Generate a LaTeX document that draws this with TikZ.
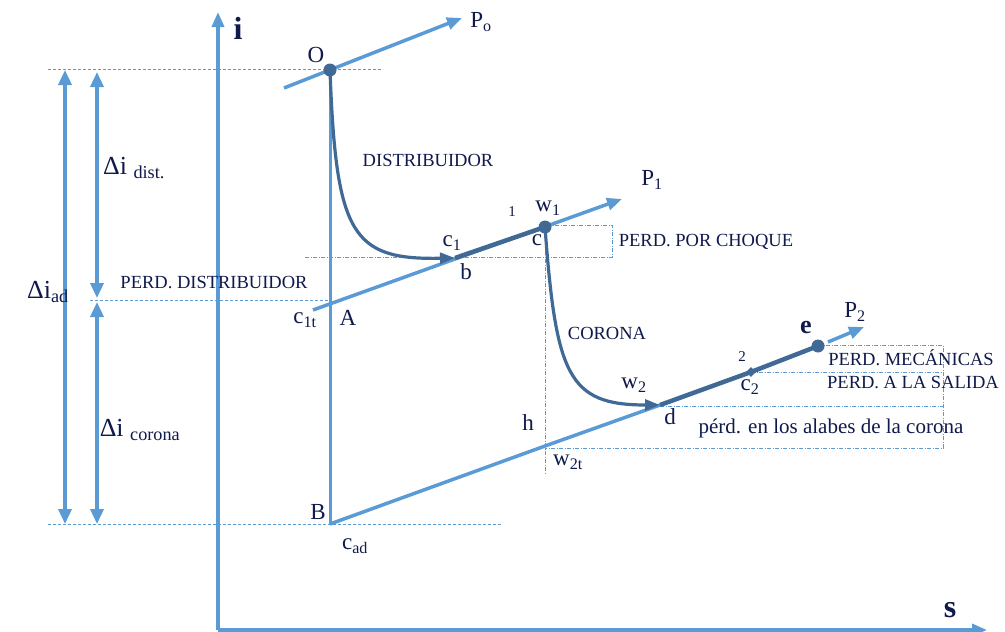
\documentclass[tikz,border=0pt]{standalone}
\usepackage{fontspec}
\setmainfont{Liberation Serif}
\usetikzlibrary{arrows.meta}
\definecolor{lb}{RGB}{91,155,213}
\definecolor{db}{RGB}{65,105,150}
\definecolor{tx}{RGB}{15,25,75}
\newcommand{\sbs}[1]{\textsubscript{#1}}
\tikzset{
  ax/.style={lb, line width=3.5pt, -{Triangle[length=15pt,width=12pt]}},
  pline/.style={lb, line width=3.5pt},
  parr/.style={lb, line width=3.5pt, -{Triangle[length=15pt,width=12pt]}},
  curv/.style={db, line width=3.2pt},
  thk/.style={db, line width=4.5pt},
  dsh/.style={lb, line width=0.8pt, dash pattern=on 3pt off 2pt},
  dshd/.style={lb, line width=0.8pt, dash pattern=on 4pt off 1.5pt on 1pt off 1.5pt},
  dim/.style={lb, line width=3.5pt, {Triangle[length=15pt,width=13pt]}-{Triangle[length=15pt,width=13pt]}},
  lbl/.style={text=tx, font=\fontsize{23}{25}\selectfont, inner sep=0pt},
  dlt/.style={text=tx, font=\fontsize{26}{28}\selectfont, inner sep=0pt},
  sm/.style={text=tx, font=\fontsize{18.5}{20}\selectfont, inner sep=0pt},
  dot/.style={circle, fill=db, inner sep=0pt, minimum size=13pt},
  dmd/.style={fill=db, inner sep=0pt, minimum size=7pt, rotate=45},
}
\begin{document}
\begin{tikzpicture}[x=1pt,y=-1pt]
\useasboundingbox (0,0) rectangle (1005,632);
% coordinates
\coordinate (orig) at (218,630);
\coordinate (itop) at (218,12);
\coordinate (send) at (987,630);
\coordinate (O) at (330,70);
\coordinate (B) at (330,524);
\coordinate (A) at (330,304);
\coordinate (b) at (455,258);
\coordinate (c) at (545,227);
\coordinate (d) at (660,405);
\coordinate (c2) at (751,372);
\coordinate (e) at (818,346);
\coordinate (w2t) at (545,446);
\coordinate (p0s) at (284,88);
\coordinate (p0e) at (462,18);
\coordinate (p1s) at (313,310);
\coordinate (p1e) at (622,199);
\coordinate (p2s) at (828,342);
\coordinate (p2e) at (864,327);
% dashed guides
\draw[dsh] (48,69) -- (383,69);
\draw[dsh] (48,524) -- (502,524);
\draw[dsh] (90,300) -- (330,300);
\draw[dshd] (305,257) -- (612,257) -- (612,225) -- (545,225);
\draw[dshd] (c) -- (545,475);
\draw[dshd] (818,345) -- (943,345) -- (943,448) -- (545,448);
\draw[dshd] (751,372) -- (943,372);
\draw[dshd] (660,406) -- (943,406);
% axes
\draw[ax] (orig) -- (itop);
\draw[ax] (orig) -- (send);
% isobars
\draw[parr] (p0s) -- (p0e);
\draw[parr] (p1s) -- (p1e);
\draw[pline] (B) -- (w2t) -- (d);
\draw[parr] (p2s) -- (p2e);
\draw[lb, line width=3pt] (O) -- (B);
% process
\draw[curv, -{Triangle[length=15pt,width=11pt]}] (O) .. controls (336,235) and (352,260) .. (b);
\draw[thk] (b) -- (c);
\draw[curv, -{Triangle[length=15pt,width=11pt]}] (c) .. controls (556,375) and (568,405) .. (d);
\draw[thk] (d) -- (c2) -- (e);
\node[dmd] (c2d) at (c2) {};
\node[dot] (Od) at (O) {};
\node[dot] (cd) at (c) {};
\node[dot] (ed) at (e) {};
% dimension arrows
\draw[dim] (65,70) -- (65,524);
\draw[dim] (97,72) -- (97,298);
\draw[dim] (97,302) -- (97,524);
% labels
\node[text=tx, font=\fontsize{32}{34}\selectfont\bfseries, inner sep=0pt] (il) at (238,28) {i};
\node[text=tx, font=\fontsize{32}{34}\selectfont\bfseries, inner sep=0pt] (sl) at (950,610) {s};
\node[lbl] (Ol) at (316,55) {O};
\node[lbl] (P0l) at (481,22) {P\sbs{o}};
\node[lbl] (P1l) at (652,180) {P\sbs{1}};
\node[lbl] (P2l) at (855,312) {P\sbs{2}};
\node[sm] (dist) at (428,160) {DISTRIBUIDOR};
\node[sm] (choq) at (706,242) {PERD. POR CHOQUE};
\node[sm] (cor) at (607,333) {CORONA};
\node[sm] (mec) at (911,358) {PERD. MECÁNICAS};
\node[sm] (sal) at (913,383) {PERD. A LA SALIDA};
\node[text=tx, font=\fontsize{21}{23}\selectfont, inner sep=0pt] (alab) at (831,428) {pérd. en los alabes de la corona};
\node[sm] (pdis) at (214,283) {PERD. DISTRIBUIDOR};
\node[dlt] (diad) at (48,292) {Δi\sbs{ad}};
\node[dlt] (didist) at (134,168) {Δi \sbs{dist.}};
\node[dlt] (dicor) at (140,430) {Δi \sbs{corona}};
\node[lbl] (c1tl) at (305,320) {c\sbs{1t}};
\node[lbl] (Al) at (348,318) {A};
\node[lbl] (Bl) at (318,512) {B};
\node[lbl] (cadl) at (355,546) {c\sbs{ad}};
\node[lbl] (c1l) at (452,243) {c\sbs{1}};
\node[lbl] (bl) at (466,272) {b};
\node[text=tx, font=\fontsize{15}{17}\selectfont, inner sep=0pt] (onel) at (512,212) {1};
\node[lbl] (w1l) at (548,208) {w\sbs{1}};
\node[lbl] (cl) at (537,240) {c};
\node[lbl] (w2l) at (634,385) {w\sbs{2}};
\node[lbl] (dl) at (670,417) {d};
\node[lbl] (hl) at (528,423) {h};
\node[lbl] (w2tl) at (568,462) {w\sbs{2t}};
\node[text=tx, font=\fontsize{15}{17}\selectfont, inner sep=0pt] (twol) at (742,357) {2};
\node[lbl] (c2l) at (750,387) {c\sbs{2}};
\node[text=tx, font=\fontsize{26}{28}\selectfont\bfseries, inner sep=0pt] (el) at (806,328) {e};
\end{tikzpicture}
\end{document}
